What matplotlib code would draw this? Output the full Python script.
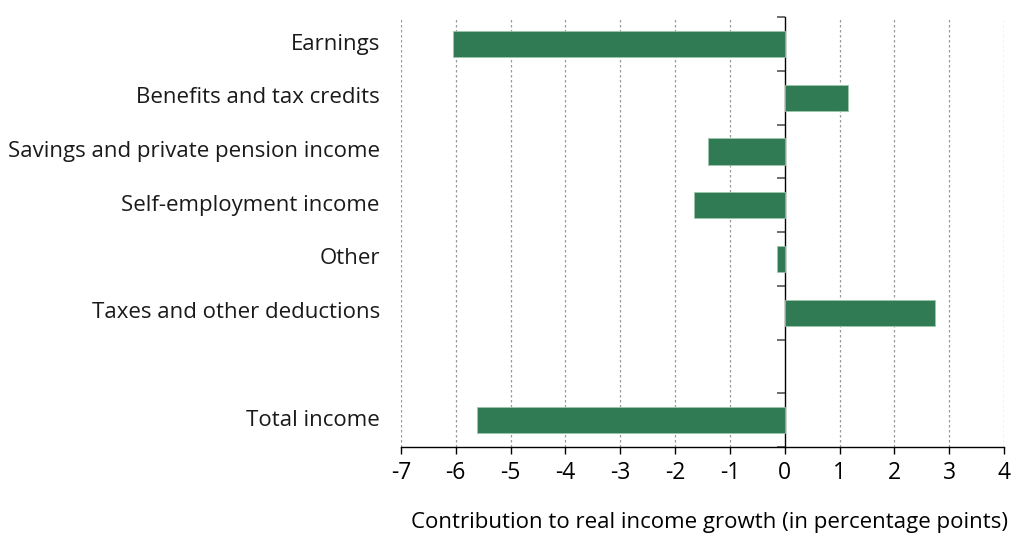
import matplotlib.pyplot as plt
import matplotlib.transforms as mtransforms

plt.rcParams['font.family'] = ['Open Sans', 'DejaVu Sans']

# Data
categories = ["Earnings", "Benefits and tax credits", "Savings and private pension income",
              "Self-employment income", "Other", "Taxes and other deductions", "Total income"]
values = [-6.05, 1.16, -1.40, -1.65, -0.14, 2.74, -5.61]
positions = [0, 1, 2, 3, 4, 5, 7]   # gap before the total
xticks = [-7, -6, -5, -4, -3, -2, -1, 0, 1, 2, 3, 4]

bar_color = "#307b53"

fig = plt.figure(figsize=(10.11, 5.36), dpi=100)
ax = fig.add_axes([0.3966, 0.166, 0.5965, 0.802])

ax.barh(positions, values, height=0.49, color=bar_color, edgecolor="#9cc7aa",
        linewidth=0.6, zorder=3)

ax.set_xlim(-7, 4)
ax.set_ylim(7.5, -0.5)

# spines
for s in ["top", "right"]:
    ax.spines[s].set_visible(False)
ax.spines["left"].set_position(("data", 0))
ax.spines["left"].set_color("black")
ax.spines["left"].set_linewidth(1.0)
ax.spines["bottom"].set_linewidth(1.0)

# y ticks at slot boundaries, labels placed by hand left of the axes
ax.set_yticks([p - 0.5 for p in range(9)])
ax.set_yticklabels([])
ax.tick_params(axis="y", direction="out", length=6, width=1.2, color="#555555")

trans = mtransforms.blended_transform_factory(ax.transAxes, ax.transData)
for cat, pos in zip(categories, positions):
    ax.text(-0.035, pos, cat, transform=trans, ha="right", va="center",
            fontsize=16, color="#1a1a1a")

# x axis
ax.set_xticks(xticks)
ax.set_xticklabels([str(t) for t in xticks], fontsize=16.5)
ax.tick_params(axis="x", direction="out", length=5, width=1, color="black", pad=5)
ax.set_xlabel("Contribution to real income growth (in percentage points)",
              fontsize=16, loc="right")
ax.xaxis.set_label_coords(1.007, -0.15)

# dotted vertical grid
for t in xticks:
    if t != 0:
        ax.axvline(t, color="#999999", linestyle=(0, (2, 2)), linewidth=0.9, zorder=1)

fig.savefig("out.png", dpi=100)
